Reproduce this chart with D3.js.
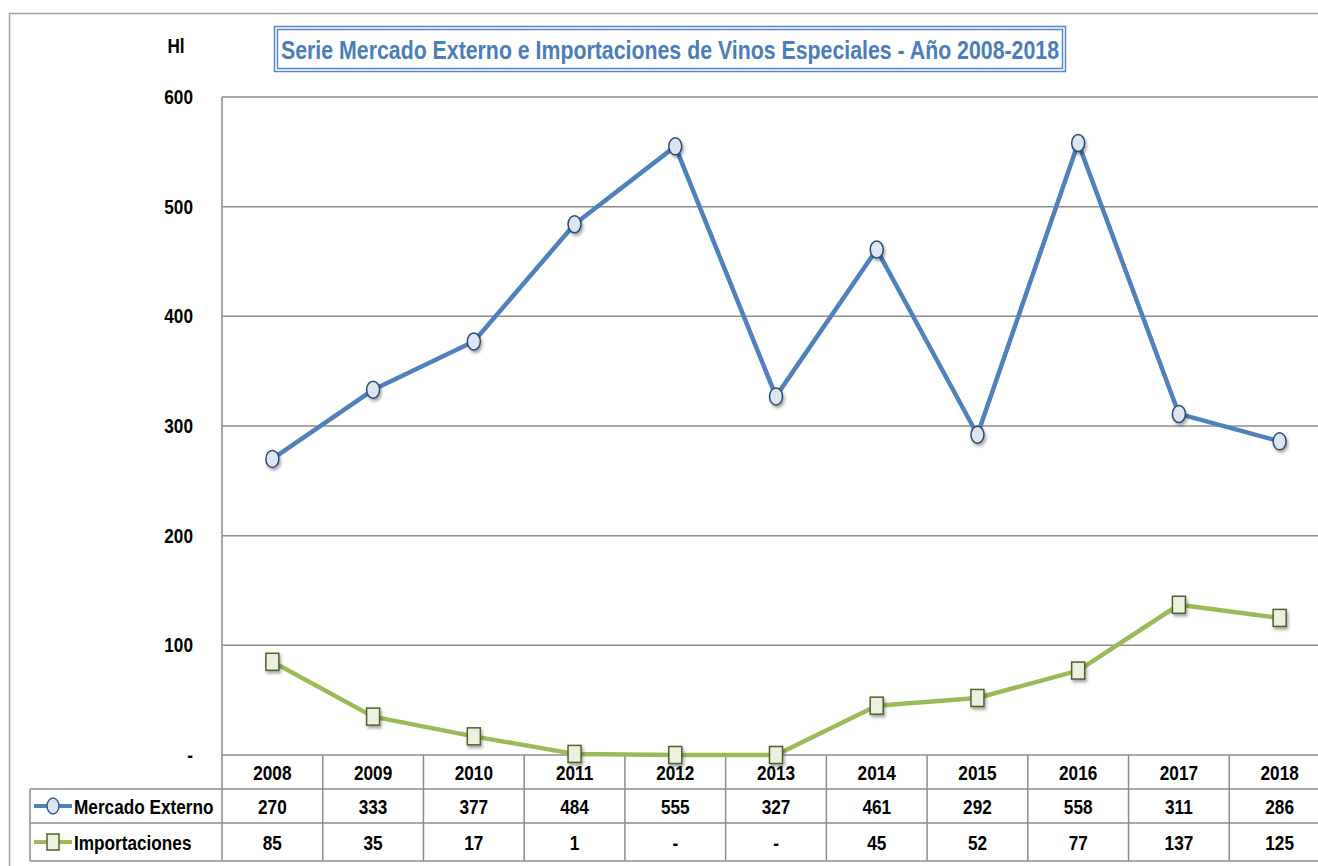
<!DOCTYPE html>
<html><head><meta charset="utf-8">
<script src="https://cdn.jsdelivr.net/npm/d3@7"></script>
<style>
html,body{margin:0;padding:0;background:#fff;overflow:hidden}
text{font-family:"Liberation Sans Narrow","Arial Narrow","Liberation Sans",sans-serif;font-weight:bold}
</style></head><body>
<svg id="c" width="1318" height="866"></svg>
<script>
const years = ["2008","2009","2010","2011","2012","2013","2014","2015","2016","2017","2018"];
const mercadoExterno = [270,333,377,484,555,327,461,292,558,311,286];
const importaciones = [85,35,17,1,0,0,45,52,77,137,125];
const yTicks = [0,100,200,300,400,500,600];
const seriesNames = ["Mercado Externo","Importaciones"];
const titleText = "Serie Mercado Externo e Importaciones de Vinos Especiales - Año 2008-2018";
const unitLabel = "Hl";

const svg = d3.select("#c");
const defs = svg.append("defs");
const f = defs.append("filter").attr("id","sh").attr("x","-50%").attr("y","-50%").attr("width","200%").attr("height","200%");
f.append("feDropShadow").attr("dx",1.5).attr("dy",2.5).attr("stdDeviation",1.5).attr("flood-color","#000").attr("flood-opacity",0.35);

const SX = 0.86, FS = 20;
// condensed text helper
function ctext(g, x, y, str, anchor, size, fill){
  return g.append("text").attr("transform",`translate(${x},${y}) scale(${SX},1)`)
    .attr("text-anchor",anchor||"middle").attr("font-size",size||FS).attr("fill",fill||"#000").text(str);
}

const L = 222, R = 1330, T = 97, B = 755;
const x = d3.scaleBand().domain(years).range([L, R]);
const y = d3.scaleLinear().domain([0, 600]).range([B, T]);
const grid = "#8c8c8c";

// outer border
svg.append("rect").attr("x",9.5).attr("y",13.5).attr("width",1400).attr("height",900)
  .attr("fill","none").attr("stroke","#a0a0a0").attr("stroke-width",1.5);

// gridlines
svg.append("g").selectAll("line").data(yTicks).join("line")
  .attr("x1",L).attr("x2",R).attr("y1",d=>y(d)).attr("y2",d=>y(d))
  .attr("stroke",grid).attr("stroke-width",1.5);
svg.append("line").attr("x1",L).attr("x2",L).attr("y1",T).attr("y2",861).attr("stroke",grid).attr("stroke-width",1.5);

// y tick labels
const yl = svg.append("g");
yTicks.forEach(d=>ctext(yl, 193, y(d)+7, d===0?"-":d3.format("d")(d), "end"));
ctext(yl, 176, 53, unitLabel, "middle");

// title
const tg = svg.append("g");
tg.append("rect").attr("x",274.5).attr("y",26.5).attr("width",791).attr("height",45).attr("fill","#fff").attr("stroke","#5a88c6").attr("stroke-width",1.5);
tg.append("rect").attr("x",277.5).attr("y",29.5).attr("width",785).attr("height",39).attr("fill","none").attr("stroke","#5a88c6").attr("stroke-width",1.5);
tg.append("text").attr("x",281).attr("y",59).attr("font-size",26).attr("fill","#4a7ebb")
  .attr("textLength",778).attr("lengthAdjust","spacingAndGlyphs").text(titleText);

// table
const tbl = svg.append("g");
[789,823,861].forEach(yy=>{
  tbl.append("line").attr("x1",30).attr("x2",R).attr("y1",yy).attr("y2",yy).attr("stroke",grid).attr("stroke-width",1.5);
});
tbl.append("line").attr("x1",30).attr("x2",30).attr("y1",789).attr("y2",861).attr("stroke",grid).attr("stroke-width",1.5);
tbl.selectAll("line.v").data(years).join("line").attr("class","v")
  .attr("x1",d=>x(d)+x.bandwidth()).attr("x2",d=>x(d)+x.bandwidth()).attr("y1",755).attr("y2",861)
  .attr("stroke",grid).attr("stroke-width",1.5);
const fmt = v => v===0 ? "-" : String(v);
years.forEach((yr,i)=>{
  const cxx = x(yr)+x.bandwidth()/2;
  ctext(tbl, cxx, 780, yr);
  ctext(tbl, cxx, 814, fmt(mercadoExterno[i]));
  ctext(tbl, cxx, 850, fmt(importaciones[i]));
});

// legend keys in table
const blue = "#4f81bd", green = "#9bbb59";
function legendKey(yy, color, shape){
  tbl.append("line").attr("x1",34).attr("x2",72).attr("y1",yy).attr("y2",yy).attr("stroke",color).attr("stroke-width",4);
  if(shape==="c") tbl.append("ellipse").attr("cx",53).attr("cy",yy).attr("rx",6).attr("ry",8).attr("fill","#dce6f2").attr("stroke","#385d8a").attr("stroke-width",1.5);
  else tbl.append("rect").attr("x",47).attr("y",yy-8).attr("width",12).attr("height",16).attr("fill","#ebf1de").attr("stroke","#4f6228").attr("stroke-width",1.5);
}
legendKey(806, blue, "c");
legendKey(842, green, "s");
ctext(tbl, 74, 814, seriesNames[0], "start");
ctext(tbl, 74, 850, seriesNames[1], "start");

// lines
const cx = i => x(years[i]) + x.bandwidth()/2;
const line = d3.line().x((d,i)=>cx(i)).y(d=>y(d));
svg.append("path").datum(mercadoExterno).attr("d",line).attr("fill","none").attr("stroke",blue).attr("stroke-width",4.5).attr("stroke-linejoin","round");
svg.append("path").datum(importaciones).attr("d",line).attr("fill","none").attr("stroke",green).attr("stroke-width",4.5).attr("stroke-linejoin","round");

svg.append("g").selectAll("ellipse").data(mercadoExterno).join("ellipse")
  .attr("cx",(d,i)=>cx(i)).attr("cy",d=>y(d)).attr("rx",6.5).attr("ry",8.5)
  .attr("fill","#dce6f2").attr("stroke","#2c4a72").attr("stroke-width",1.5).attr("filter","url(#sh)");
svg.append("g").selectAll("rect").data(importaciones).join("rect")
  .attr("x",(d,i)=>cx(i)-6.5).attr("y",d=>y(d)-8.5).attr("width",13).attr("height",17)
  .attr("fill","#ebf1de").attr("stroke","#4f6228").attr("stroke-width",1.5).attr("filter","url(#sh)");
</script></body></html>
